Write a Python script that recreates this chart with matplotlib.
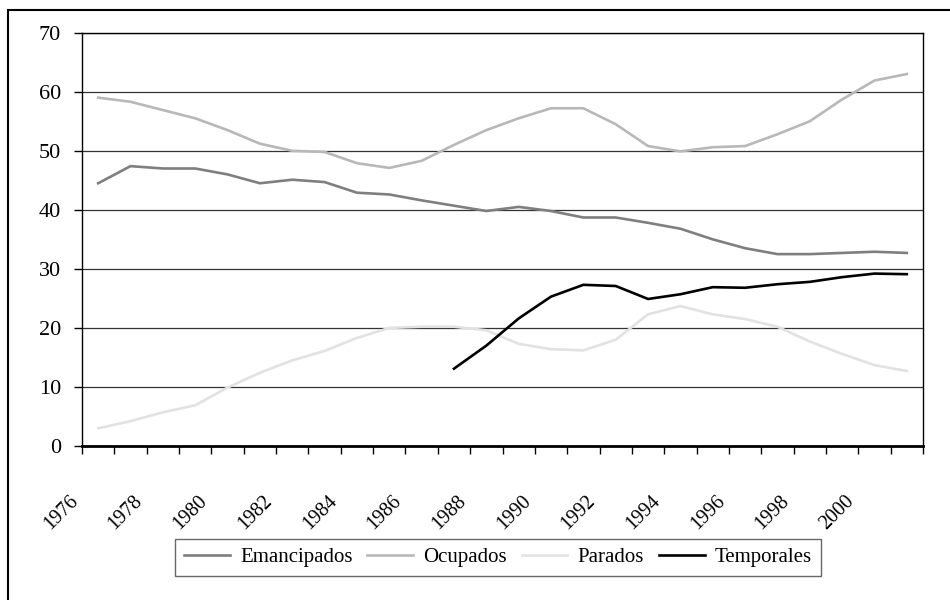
import matplotlib
matplotlib.use('Agg')
import matplotlib.pyplot as plt
import numpy as np
from matplotlib.patches import Rectangle

years = np.arange(1976, 2002)

emancipados = [44.5, 47.4, 47.0, 47.0, 46.0, 44.5, 45.1, 44.7, 42.9, 42.6,
               41.6, 40.7, 39.8, 40.5, 39.8, 38.7, 38.7, 37.8, 36.8, 35.0,
               33.5, 32.5, 32.5, 32.7, 32.9, 32.7]
ocupados = [59.0, 58.3, 56.9, 55.5, 53.5, 51.2, 50.0, 49.8, 47.9, 47.1,
            48.3, 51.0, 53.5, 55.5, 57.2, 57.2, 54.5, 50.8, 49.9, 50.6,
            50.8, 52.8, 55.0, 58.7, 61.9, 63.0]
parados = [3.0, 4.2, 5.7, 6.9, 9.9, 12.4, 14.5, 16.1, 18.3, 20.0,
           20.2, 20.2, 19.6, 17.3, 16.4, 16.2, 18.0, 22.3, 23.7, 22.3,
           21.5, 20.2, 17.7, 15.6, 13.7, 12.7]
temporales_years = np.arange(1987, 2002)
temporales = [13.1, 17.0, 21.6, 25.3, 27.3, 27.1, 24.9, 25.7, 26.9, 26.8,
              27.4, 27.8, 28.6, 29.2, 29.1]

plt.rcParams['font.family'] = ['Liberation Serif', 'DejaVu Serif']

fig = plt.figure(figsize=(9.5, 6), dpi=100)
ax = fig.add_axes([82/950, 1-446/600, (923-82)/950, (446-32.7)/600])

# marco exterior
fig.patches.append(Rectangle((8/950, -0.05), 1.2, 1-10/600+0.05, transform=fig.transFigure,
                             fill=False, edgecolor='black', linewidth=1.5))

x = np.arange(len(years))
xt = temporales_years - years[0]
ax.plot(x, emancipados, color='#7f7f7f', lw=1.9, label='Emancipados')
ax.plot(x, ocupados, color='#b8b8b8', lw=1.9, label='Ocupados')
ax.plot(x, parados, color='#e2e2e2', lw=1.9, label='Parados')
ax.plot(xt, temporales, color='black', lw=1.9, label='Temporales')

ax.set_xlim(-0.5, len(years) - 0.5)
ax.set_ylim(0, 70)
ax.set_yticks(np.arange(0, 71, 10))
ax.yaxis.grid(True, color='#333333', lw=0.9)
ax.set_axisbelow(True)

bounds = np.arange(len(years) + 1) - 0.5
labels = [str(1976 + k) if (k % 2 == 0 and k <= 24) else '' for k in range(len(bounds))]
ax.set_xticks(bounds)
ax.set_xticklabels(labels, rotation=45, ha='right')

ax.tick_params(axis='y', length=6, width=1, pad=9, labelsize=16, direction='out')
ax.tick_params(axis='x', length=6, width=1, pad=27, labelsize=14.5, direction='out')

for s in ['left', 'right', 'top']:
    ax.spines[s].set_linewidth(1)
ax.spines['bottom'].set_linewidth(2)

fig.legend(loc='center', bbox_to_anchor=(498/950, 1-557.5/600), ncol=4,
           fontsize=15, frameon=True, fancybox=False, edgecolor='#444444',
           handlelength=2.2, handletextpad=0.5, columnspacing=0.7,
           borderpad=0.4)

fig.savefig('out.png', dpi=100)
